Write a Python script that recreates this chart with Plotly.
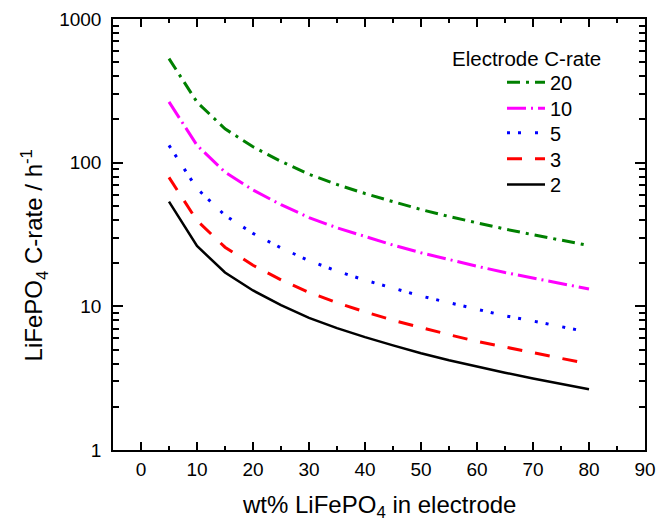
import plotly.graph_objects as go

# LiFePO4 weight fraction in the electrode (wt%)
wt_pct = [5, 10, 15, 20, 25, 30, 35, 40, 45, 50, 55, 60, 65, 70, 75, 80]

# LiFePO4 C-rate (h^-1) needed for each electrode C-rate
rate_20 = [530, 264, 172, 129, 102, 83, 70.5, 61, 53.5, 47.2, 42.2, 38, 34.5, 31.5, 28.8, 26.5]
rate_10 = [265, 132, 86, 64.5, 51, 41.5, 35.2, 30.5, 26.7, 23.6, 21.1, 19.0, 17.2, 15.8, 14.4, 13.2]
rate_5 = [132, 66, 43, 32.2, 25.5, 20.8, 17.6, 15.2, 13.4, 11.8, 10.6, 9.5, 8.6, 7.9, 7.2, 6.6]
rate_3 = [79, 39.5, 25.8, 19.3, 15.3, 12.5, 10.6, 9.15, 8.0, 7.1, 6.35, 5.7, 5.2, 4.73, 4.33, 3.97]
rate_2 = [53.5, 26.3, 17.2, 12.9, 10.2, 8.3, 7.05, 6.1, 5.35, 4.72, 4.22, 3.8, 3.45, 3.15, 2.88, 2.65]

series_names = ["20", "10", "5", "3", "2"]
y_ticks = [1, 10, 100, 1000]
y_tick_text = ["1", "10", "100", "1000"]

FONT = "Arial, Liberation Sans, sans-serif"

styles = [
    (rate_20, "#008000", "13px,6px,3px,6px", 3),
    (rate_10, "#ff00ff", "19px,5px,2px,5px", 3),
    (rate_5, "#0000ff", "3px,8px,3px,14px", 3),
    (rate_3, "#ff0000", "15px,13px", 3),
    (rate_2, "#000000", "solid", 2.5),
]

# one single-entry legend per series, stacked under the heading
legend_ids = ["legend", "legend2", "legend3", "legend4", "legend5"]
legend_tops = [0.8986, 0.8383, 0.7812, 0.7209, 0.6613]

fig = go.Figure()
for name, (vals, color, dash, width), lid in zip(series_names, styles, legend_ids):
    fig.add_trace(go.Scatter(
        x=wt_pct, y=vals, mode="lines", name=name, legend=lid,
        line=dict(color=color, dash=dash, width=width),
    ))

legend_layout = {}
for lid, top in zip(legend_ids, legend_tops):
    legend_layout[lid] = dict(
        x=0.7312, y=top, xanchor="left", yanchor="top",
        bgcolor="rgba(0,0,0,0)", itemwidth=38,
        font=dict(family=FONT, size=20),
    )

fig.update_layout(
    width=658, height=521,
    margin=dict(l=113, r=13, t=19, b=71, autoexpand=False),
    paper_bgcolor="white", plot_bgcolor="white",
    font=dict(family=FONT, size=19, color="black"),
    showlegend=True,
    annotations=[
        # legend heading
        dict(text="Electrode C-rate", xref="paper", yref="paper",
             x=0.778, y=0.9095, xanchor="center", yanchor="middle",
             showarrow=False, font=dict(family=FONT, size=20.5)),
        # y-axis title
        dict(text="LiFePO<sub>4</sub> C-rate / h<sup>-1</sup>",
             xref="paper", yref="paper", x=-0.1477, y=0.4524,
             xanchor="center", yanchor="middle", textangle=-90,
             showarrow=False, font=dict(family=FONT, size=24)),
        # x-axis title
        dict(text="wt% LiFePO<sub>4</sub> in electrode",
             xref="paper", yref="paper", x=0.5, y=-0.13,
             xanchor="center", yanchor="middle",
             showarrow=False, font=dict(family=FONT, size=24)),
    ],
    **legend_layout,
)

fig.update_xaxes(
    range=[-5, 90], tick0=0, dtick=10, automargin=False,
    showline=True, linecolor="black", linewidth=1.5, mirror="ticks",
    ticks="inside", ticklen=8, tickwidth=1.5, tickcolor="black",
    minor=dict(ticks="inside", dtick=5, ticklen=4, tickwidth=1.5, tickcolor="black"),
    showgrid=False, zeroline=False, ticklabelstandoff=1,
    tickfont=dict(family=FONT, size=19),
)

fig.update_yaxes(
    type="log", range=[0, 3], automargin=False,
    tickvals=y_ticks, ticktext=y_tick_text,
    showline=True, linecolor="black", linewidth=1.5, mirror="ticks",
    ticks="inside", ticklen=10, tickwidth=1.5, tickcolor="black",
    minor=dict(ticks="inside", ticklen=6, tickwidth=1.5, tickcolor="black", dtick="D1"),
    showgrid=False, zeroline=False, ticklabelstandoff=6,
    tickfont=dict(family=FONT, size=19),
)

fig.write_html("out.html")
